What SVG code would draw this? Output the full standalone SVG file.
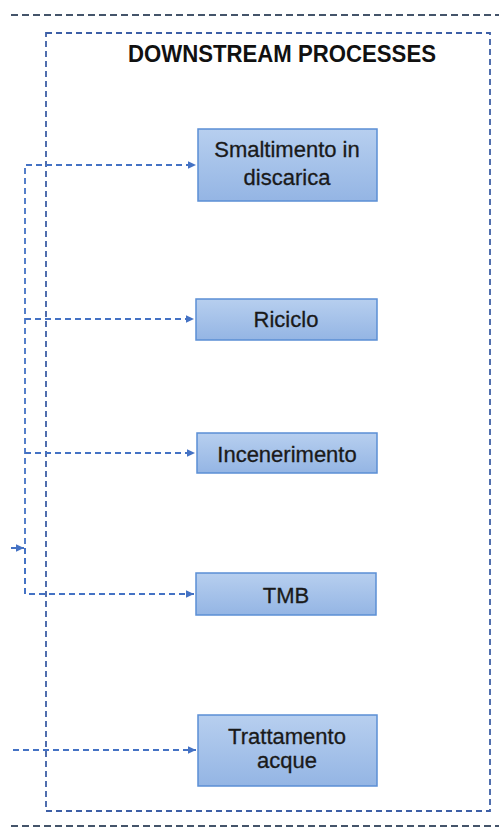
<svg xmlns="http://www.w3.org/2000/svg" width="499" height="828" viewBox="0 0 499 828">
<style>
.frame{fill:none;stroke:#44546a;stroke-width:2;stroke-dasharray:7 4}
.cont{fill:none;stroke:#3d5fa6;stroke-width:1.8;stroke-dasharray:6 4}
.conn{fill:none;stroke:#4472c4;stroke-width:1.8;stroke-dasharray:6 4}
.box{fill:url(#g);stroke:#5b8fd5;stroke-width:1.5}
.lbl{font-family:"Liberation Sans",Arial,sans-serif;font-size:22px;fill:#1a1a1a;stroke:#1a1a1a;stroke-width:0.3;text-anchor:middle}
.title{font-family:"Liberation Sans",Arial,sans-serif;font-size:23px;font-weight:bold;fill:#111;text-anchor:middle}
</style>
<defs>
<linearGradient id="g" x1="0" y1="0" x2="0" y2="1">
<stop offset="0" stop-color="#b7cfef"/>
<stop offset="1" stop-color="#94b5e4"/>
</linearGradient>
<marker id="ah" markerWidth="9" markerHeight="9" refX="8" refY="4.5" orient="auto" markerUnits="userSpaceOnUse">
<path d="M0,0.8 L8,4.5 L0,8.2 Z" fill="#4472c4"/>
</marker>
</defs>
<line class="frame" x1="11" y1="15" x2="499" y2="15"/>
<line class="frame" x1="11" y1="826" x2="499" y2="826"/>
<g id="container">
<rect class="cont" x="46" y="33" width="444" height="778"/>
<text class="title" x="282" y="62" textLength="308" lengthAdjust="spacingAndGlyphs">DOWNSTREAM PROCESSES</text>
</g>
<g id="connectors">
<path class="conn" d="M25,594 L25,165 L196,165" marker-end="url(#ah)"/>
<path class="conn" d="M25,319 L194,319" marker-end="url(#ah)"/>
<path class="conn" d="M25,453 L195,453" marker-end="url(#ah)"/>
<path class="conn" d="M25,548 L25,594 L194,594" marker-end="url(#ah)"/>
<path class="conn" d="M11,548 L24,548" marker-end="url(#ah)"/>
<path class="conn" d="M13,750 L196,750" marker-end="url(#ah)"/>
</g>
<g id="smaltimento">
<rect class="box" x="198" y="129" width="179" height="72"/>
<text class="lbl" x="287" y="157">Smaltimento in</text>
<text class="lbl" x="287" y="185">discarica</text>
</g>
<g id="riciclo">
<rect class="box" x="196" y="299" width="181" height="41"/>
<text class="lbl" x="286" y="327">Riciclo</text>
</g>
<g id="incenerimento">
<rect class="box" x="197" y="433" width="180" height="40"/>
<text class="lbl" x="287" y="462">Incenerimento</text>
</g>
<g id="tmb">
<rect class="box" x="196" y="573" width="180" height="42"/>
<text class="lbl" x="286" y="603">TMB</text>
</g>
<g id="trattamento">
<rect class="box" x="198" y="715" width="179" height="71"/>
<text class="lbl" x="287" y="744">Trattamento</text>
<text class="lbl" x="287" y="768">acque</text>
</g>
</svg>
